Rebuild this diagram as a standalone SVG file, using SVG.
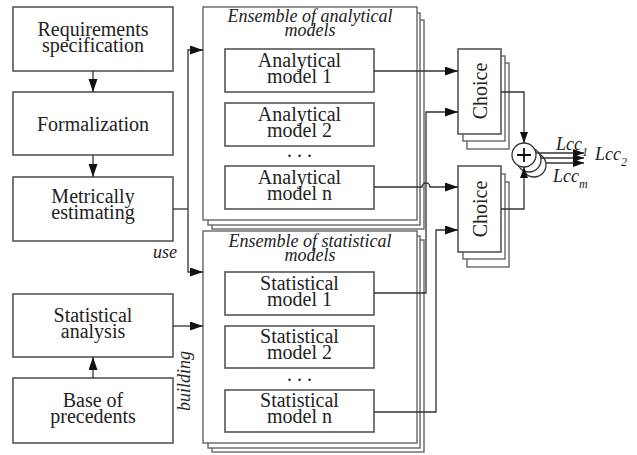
<svg xmlns="http://www.w3.org/2000/svg" width="637" height="455" viewBox="0 0 637 455">
<defs>
<marker id="ah" markerUnits="userSpaceOnUse" markerWidth="14" markerHeight="10" refX="13" refY="4.5" orient="auto">
<path d="M0,0 L13,4.5 L0,9 z" fill="#111"/>
</marker>
<marker id="ahs" markerUnits="userSpaceOnUse" markerWidth="12" markerHeight="8" refX="11" refY="4" orient="auto">
<path d="M0,0 L11,4 L0,8 z" fill="#111"/>
</marker>
</defs>
<style>
.box{fill:#fff;stroke:#555;stroke-width:1.6}
.fr{fill:#fff;stroke:#666;stroke-width:1.4}
.t{font-size:20px;fill:#222;text-anchor:middle}
.ti{font-size:18px;font-style:italic;fill:#222;text-anchor:middle}
.c{fill:none;stroke:#333;stroke-width:1.3}
</style>
<rect width="637" height="455" fill="#fff"/>
<g font-family="Liberation Serif, Times New Roman, serif">
<g id="req">
<rect class="box" x="13" y="7" width="160" height="64"/>
<text class="t" x="93" y="35.5">Requirements</text>
<text class="t" x="93" y="51.5">specification</text>
</g>
<g id="form">
<rect class="box" x="13" y="92" width="160" height="63"/>
<text class="t" x="93" y="131">Formalization</text>
</g>
<g id="metric">
<rect class="box" x="13" y="177" width="160" height="64"/>
<text class="t" x="93" y="203">Metrically</text>
<text class="t" x="93" y="219">estimating</text>
</g>
<g id="statan">
<rect class="box" x="13" y="294" width="160" height="63"/>
<text class="t" x="93" y="321.5">Statistical</text>
<text class="t" x="93" y="337.5">analysis</text>
</g>
<g id="base">
<rect class="box" x="13" y="378" width="160" height="65"/>
<text class="t" x="93" y="406.5">Base of</text>
<text class="t" x="93" y="422.5">precedents</text>
</g>

<g id="ens-analytical">
<rect class="fr" x="212" y="20" width="212" height="209"/>
<rect class="fr" x="208" y="13" width="212" height="212"/>
<rect class="fr" x="203" y="7" width="214" height="213"/>
<text class="ti" x="310" y="21.5">Ensemble of analytical</text>
<text class="ti" x="310" y="35.5">models</text>
</g>
<g id="am1">
<rect class="box" x="225" y="49" width="149" height="43"/>
<text class="t" x="299.5" y="66.5">Analytical</text>
<text class="t" x="299.5" y="82.5">model 1</text>
</g>
<g id="am2">
<rect class="box" x="225" y="103" width="149" height="43"/>
<text class="t" x="299.5" y="120.5">Analytical</text>
<text class="t" x="299.5" y="136.5">model 2</text>
</g>
<text class="t" x="299.5" y="157">. . .</text>
<g id="amn">
<rect class="box" x="225" y="166" width="149" height="43"/>
<text class="t" x="299.5" y="183.5">Analytical</text>
<text class="t" x="299.5" y="199.5">model n</text>
</g>

<g id="ens-statistical">
<rect class="fr" x="212" y="240" width="212" height="212"/>
<rect class="fr" x="208" y="236" width="212" height="212"/>
<rect class="fr" x="203" y="231" width="214" height="212"/>
<text class="ti" x="310" y="246.5">Ensemble of statistical</text>
<text class="ti" x="310" y="260.5">models</text>
</g>
<g id="sm1">
<rect class="box" x="225" y="272" width="149" height="43"/>
<text class="t" x="299.5" y="289.5">Statistical</text>
<text class="t" x="299.5" y="305.5">model 1</text>
</g>
<g id="sm2">
<rect class="box" x="225" y="326" width="149" height="42"/>
<text class="t" x="299.5" y="342.5">Statistical</text>
<text class="t" x="299.5" y="358.5">model 2</text>
</g>
<text class="t" x="299.5" y="381">. . .</text>
<g id="smn">
<rect class="box" x="225" y="390" width="149" height="42"/>
<text class="t" x="299.5" y="406.5">Statistical</text>
<text class="t" x="299.5" y="422.5">model n</text>
</g>

<g id="choice1">
<rect class="fr" x="467" y="63" width="42" height="86"/>
<rect class="fr" x="463" y="56" width="42" height="85"/>
<rect class="box" x="458" y="49" width="43" height="85"/>
<text class="t" transform="translate(487,91) rotate(-90)" x="0" y="0">Choice</text>
</g>
<g id="choice2">
<rect class="fr" x="467" y="182" width="42" height="85"/>
<rect class="fr" x="463" y="174" width="42" height="85"/>
<rect class="box" x="458" y="166" width="43" height="86"/>
<text class="t" transform="translate(487,209) rotate(-90)" x="0" y="0">Choice</text>
</g>

<g id="sum">
<circle cx="534" cy="165" r="12" fill="#fff" stroke="#333" stroke-width="1.3"/>
<circle cx="529" cy="160" r="12" fill="#fff" stroke="#333" stroke-width="1.3"/>
<circle cx="524" cy="155" r="12" fill="#fff" stroke="#333" stroke-width="1.3"/>
<path d="M524,148 V162 M517,155 H531" stroke="#111" stroke-width="1.8" fill="none"/>
</g>

<g id="connectors">
<path class="c" d="M93,71 V92" marker-end="url(#ah)"/>
<path class="c" d="M93,155 V177" marker-end="url(#ah)"/>
<path class="c" d="M93,378 V357" marker-end="url(#ah)"/>
<path class="c" d="M173,209 H188"/>
<path class="c" d="M188,209 V50 H203" marker-end="url(#ah)"/>
<path class="c" d="M188,209 V272 H203" marker-end="url(#ah)"/>
<path class="c" d="M173,326 H203" marker-end="url(#ah)"/>
<path class="c" d="M374,71 H458" marker-end="url(#ah)"/>
<path class="c" d="M374,293 H426 V112 H458" marker-end="url(#ah)"/>
<path class="c" d="M374,187 H422 A4,4 0 0 1 430,187 H458" marker-end="url(#ah)"/>
<path class="c" d="M374,412 H436 V230 H458" marker-end="url(#ah)"/>
<path class="c" d="M501,92 H524 V143" marker-end="url(#ahs)"/>
<path class="c" d="M501,209 H524 V167" marker-end="url(#ahs)"/>
<path class="c" d="M536,153 H584" marker-end="url(#ahs)"/>
<path class="c" d="M541,158 H584" marker-end="url(#ahs)"/>
<path class="c" d="M546,163 H584" marker-end="url(#ahs)"/>
</g>

<text class="ti" x="165" y="258">use</text>
<text class="ti" transform="translate(190,381) rotate(-90)" x="0" y="0">building</text>

<g font-style="italic" fill="#222">
<text x="556" y="150" font-size="18">Lcc<tspan font-size="12" dy="6">1</tspan></text>
<text x="595" y="160" font-size="18">Lcc<tspan font-size="12" dy="6">2</tspan></text>
<text x="553" y="182" font-size="18">Lcc<tspan font-size="12" dy="6">m</tspan></text>
</g>
</g>
</svg>
